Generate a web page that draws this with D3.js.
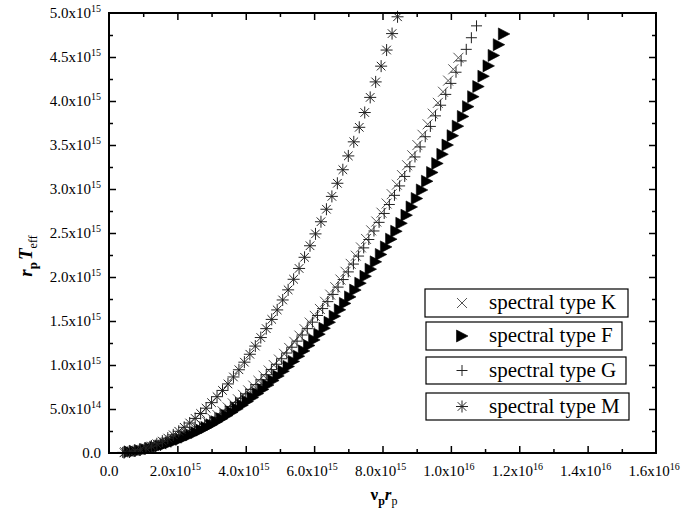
<!DOCTYPE html>
<html>
<head>
<meta charset="utf-8">
<script src="https://cdn.jsdelivr.net/npm/d3@7"></script>
<style>
  body { margin: 0; background: #fff; }
  svg { display: block; }
  svg text { font-family: "Liberation Serif", "Times New Roman", Times, "DejaVu Serif", serif !important; fill: #000; }
</style>
</head>
<body>
<svg id="chart" width="685" height="529" font-family="Liberation Serif, Times New Roman, serif"></svg>
<script>
// Values are in units of 1e15.
const xTickValues = [0, 2, 4, 6, 8, 10, 12, 14, 16];
const xTickMantissa = ["0.0", "2.0x10", "4.0x10", "6.0x10", "8.0x10", "1.0x10", "1.2x10", "1.4x10", "1.6x10"];
const xTickExponent = ["", "15", "15", "15", "15", "16", "16", "16", "16"];
const yTickValues = [0, 0.5, 1, 1.5, 2, 2.5, 3, 3.5, 4, 4.5, 5];
const yTickMantissa = ["0.0", "5.0x10", "1.0x10", "1.5x10", "2.0x10", "2.5x10", "3.0x10", "3.5x10", "4.0x10", "4.5x10", "5.0x10"];
const yTickExponent = ["", "14", "15", "15", "15", "15", "15", "15", "15", "15", "15"];

// spectral type K
const kX = [0.47,0.62,0.77,0.92,1.07,1.22,1.37,1.52,1.67,1.82,1.97,2.12,2.27,2.42,2.57,2.72,2.87,3.02,3.17,3.32,3.47,3.62,3.77,3.92,4.07,4.22,4.37,4.52,4.67,4.82,4.97,5.12,5.27,5.42,5.57,5.72,5.87,6.02,6.17,6.32,6.47,6.62,6.77,6.92,7.07,7.22,7.37,7.52,7.67,7.82,7.97,8.12,8.27,8.42,8.57,8.72,8.87,9.02,9.17,9.32,9.47,9.62,9.77,9.92,10.07,10.22];
const kY = [0.010,0.017,0.026,0.036,0.049,0.064,0.081,0.099,0.120,0.142,0.167,0.193,0.222,0.252,0.284,0.318,0.354,0.392,0.432,0.474,0.518,0.564,0.611,0.661,0.712,0.766,0.821,0.879,0.938,0.999,1.062,1.127,1.194,1.263,1.334,1.407,1.482,1.558,1.637,1.718,1.800,1.884,1.971,2.059,2.149,2.242,2.336,2.432,2.530,2.630,2.731,2.835,2.941,3.049,3.158,3.270,3.383,3.499,3.616,3.735,3.856,3.979,4.105,4.232,4.360,4.491];

// spectral type F
const fX = [0.60,0.75,0.90,1.05,1.20,1.35,1.50,1.65,1.80,1.95,2.10,2.25,2.40,2.55,2.70,2.85,3.00,3.15,3.30,3.45,3.60,3.75,3.90,4.05,4.20,4.35,4.50,4.65,4.80,4.95,5.10,5.25,5.40,5.55,5.70,5.85,6.00,6.15,6.30,6.45,6.60,6.75,6.90,7.05,7.20,7.35,7.50,7.65,7.80,7.95,8.10,8.25,8.40,8.55,8.70,8.85,9.00,9.15,9.30,9.45,9.60,9.75,9.90,10.05,10.20,10.35,10.50,10.65,10.80,10.95,11.10,11.25,11.40,11.55];
const fY = [0.013,0.020,0.029,0.039,0.051,0.065,0.080,0.097,0.116,0.136,0.157,0.181,0.206,0.232,0.260,0.290,0.321,0.354,0.389,0.425,0.463,0.502,0.543,0.586,0.630,0.676,0.723,0.772,0.823,0.875,0.929,0.984,1.041,1.100,1.160,1.222,1.285,1.350,1.417,1.485,1.555,1.627,1.700,1.774,1.851,1.929,2.008,2.089,2.172,2.256,2.342,2.430,2.519,2.610,2.702,2.796,2.892,2.989,3.088,3.188,3.290,3.394,3.499,3.606,3.714,3.824,3.936,4.049,4.164,4.281,4.399,4.518,4.640,4.762];

// spectral type G
const gX = [0.40,0.55,0.70,0.85,1.00,1.15,1.30,1.45,1.60,1.75,1.90,2.05,2.20,2.35,2.50,2.65,2.80,2.95,3.10,3.25,3.40,3.55,3.70,3.85,4.00,4.15,4.30,4.45,4.60,4.75,4.90,5.05,5.20,5.35,5.50,5.65,5.80,5.95,6.10,6.25,6.40,6.55,6.70,6.85,7.00,7.15,7.30,7.45,7.60,7.75,7.90,8.05,8.20,8.35,8.50,8.65,8.80,8.95,9.10,9.25,9.40,9.55,9.70,9.85,10.00,10.15,10.30,10.45,10.60,10.75];
const gY = [0.007,0.013,0.021,0.030,0.042,0.056,0.071,0.088,0.108,0.129,0.152,0.177,0.203,0.232,0.263,0.295,0.329,0.366,0.404,0.444,0.486,0.529,0.575,0.623,0.672,0.723,0.777,0.832,0.889,0.948,1.008,1.071,1.136,1.202,1.271,1.341,1.413,1.487,1.563,1.641,1.720,1.802,1.885,1.971,2.058,2.147,2.238,2.331,2.426,2.523,2.621,2.722,2.824,2.928,3.035,3.143,3.253,3.364,3.478,3.594,3.711,3.831,3.952,4.075,4.200,4.327,4.456,4.587,4.719,4.854];

// spectral type M
const mX = [0.44,0.60,0.76,0.92,1.08,1.24,1.40,1.56,1.72,1.88,2.04,2.20,2.36,2.52,2.68,2.84,3.00,3.16,3.32,3.48,3.64,3.80,3.96,4.12,4.28,4.44,4.60,4.76,4.92,5.08,5.24,5.40,5.56,5.72,5.88,6.04,6.20,6.36,6.52,6.68,6.84,7.00,7.16,7.32,7.48,7.64,7.80,7.96,8.12,8.28,8.44];
const mY = [0.004,0.012,0.023,0.038,0.057,0.079,0.105,0.135,0.169,0.206,0.247,0.292,0.341,0.393,0.449,0.509,0.572,0.640,0.711,0.785,0.864,0.946,1.032,1.122,1.215,1.312,1.413,1.518,1.626,1.739,1.854,1.974,2.097,2.224,2.355,2.490,2.628,2.770,2.916,3.065,3.219,3.376,3.536,3.701,3.869,4.041,4.217,4.396,4.579,4.766,4.957];

const legendLabels = ["spectral type K", "spectral type F", "spectral type G", "spectral type M"];
const legendSymbols = ["cross", "triangle", "plus", "asterisk"];

const svg = d3.select("#chart");
svg.append("rect").attr("width", 685).attr("height", 529).attr("fill", "#fff");

const plotLeft = 109, plotRight = 656, plotTop = 13, plotBottom = 453;
const x = d3.scaleLinear().domain([0, 16]).range([plotLeft, plotRight]);
const y = d3.scaleLinear().domain([0, 5]).range([plotBottom, plotTop]);

// Marker shapes, all centred on the origin
const markerPath = {
  cross: "M-5,-5L5,5M-5,5L5,-5",
  plus: "M-5.5,0L5.5,0M0,-5.5L0,5.5",
  asterisk: "M-6,0L6,0M0,-6L0,6M-4.3,-4.3L4.3,4.3M-4.3,4.3L4.3,-4.3",
  triangle: "M-5.5,-6L6,0L-5.5,6Z"
};
function styleMarker(sel, kind) {
  if (kind === "triangle") sel.attr("fill", "#000").attr("stroke", "#000").attr("stroke-width", 0.6);
  else if (kind === "cross") sel.attr("fill", "none").attr("stroke", "#555").attr("stroke-width", 1);
  else sel.attr("fill", "none").attr("stroke", "#222").attr("stroke-width", 1);
}

const series = [
  { xs: kX, ys: kY, kind: "cross" },
  { xs: gX, ys: gY, kind: "plus" },
  { xs: fX, ys: fY, kind: "triangle" },
  { xs: mX, ys: mY, kind: "asterisk" }
];

const plot = svg.append("g");
series.forEach(s => {
  const pts = s.xs.map((v, i) => [v, s.ys[i]]);
  plot.append("g").selectAll("path").data(pts).join("path")
    .attr("d", markerPath[s.kind])
    .attr("transform", d => `translate(${x(d[0])},${y(d[1])})`)
    .call(styleMarker, s.kind);
});

// Inward ticks on all four sides
const xMinor = d3.range(1, 16, 2);
const yMinor = d3.range(0.25, 5, 0.5);
function tickAxis(axisFn, scale, values, size, transform) {
  svg.append("g").attr("transform", transform)
    .call(axisFn(scale).tickValues(values).tickSize(size).tickSizeOuter(0).tickFormat(() => ""))
    .call(g => g.select(".domain").remove())
    .call(g => g.selectAll("line").attr("stroke", "#000").attr("stroke-width", 1.5));
}
tickAxis(d3.axisBottom, x, xTickValues.slice(1, -1), -7, `translate(0,${plotBottom})`);
tickAxis(d3.axisBottom, x, xMinor, -4, `translate(0,${plotBottom})`);
tickAxis(d3.axisTop, x, xTickValues.slice(1, -1), -7, `translate(0,${plotTop})`);
tickAxis(d3.axisTop, x, xMinor, -4, `translate(0,${plotTop})`);
tickAxis(d3.axisLeft, y, yTickValues.slice(1, -1), -7, `translate(${plotLeft},0)`);
tickAxis(d3.axisLeft, y, yMinor, -4, `translate(${plotLeft},0)`);
tickAxis(d3.axisRight, y, yTickValues.slice(1, -1), -7, `translate(${plotRight},0)`);
tickAxis(d3.axisRight, y, yMinor, -4, `translate(${plotRight},0)`);

svg.append("rect")
  .attr("x", plotLeft).attr("y", plotTop).attr("width", plotRight - plotLeft).attr("height", plotBottom - plotTop)
  .attr("fill", "none").attr("stroke", "#000").attr("stroke-width", 2);

// Tick labels with exponent superscripts
function tickLabel(g, mant, exp) {
  g.append("tspan").text(mant);
  if (exp) g.append("tspan").attr("font-size", 10).attr("dy", -6).text(exp);
}
xTickValues.forEach((v, i) => {
  const t = svg.append("text").attr("x", x(v) - (xTickExponent[i] ? 2 : 0)).attr("y", plotBottom + 23)
    .attr("text-anchor", "middle").attr("font-size", 15);
  tickLabel(t, xTickMantissa[i], xTickExponent[i]);
});
yTickValues.forEach((v, i) => {
  const t = svg.append("text").attr("x", plotLeft - 8).attr("y", y(v) + 5)
    .attr("text-anchor", "end").attr("font-size", 15);
  tickLabel(t, yTickMantissa[i], yTickExponent[i]);
});

// Axis titles
const yTitle = svg.append("text").attr("transform", "translate(32,256) rotate(-90)")
  .attr("text-anchor", "middle").attr("font-size", 19).attr("font-weight", "bold");
yTitle.append("tspan").attr("font-style", "italic").text("r");
yTitle.append("tspan").attr("font-size", 13).attr("dy", 5).text("p");
yTitle.append("tspan").attr("font-style", "italic").attr("dy", -5).attr("dx", 2).text("T");
yTitle.append("tspan").attr("font-size", 12).attr("font-weight", "normal").attr("dy", 5).text("eff");

const xTitle = svg.append("text").attr("x", 384).attr("y", 500)
  .attr("text-anchor", "middle").attr("font-size", 17).attr("font-weight", "bold");
xTitle.append("tspan").text("\u03bd");
xTitle.append("tspan").attr("font-size", 12).attr("dy", 5).text("p");
xTitle.append("tspan").attr("font-style", "italic").attr("dy", -5).text("r");
xTitle.append("tspan").attr("font-size", 12).attr("font-weight", "normal").attr("dy", 5).text("p");

// Legend: one framed entry per series
const legendBoxes = [[425, 289, 203, 28], [426, 322, 196, 28], [426, 357, 200, 27], [426, 393, 203, 27]];
legendLabels.forEach((lab, i) => {
  const [bx, by, bw, bh] = legendBoxes[i];
  const g = svg.append("g");
  g.append("rect").attr("x", bx).attr("y", by).attr("width", bw).attr("height", bh)
    .attr("fill", "#fff").attr("stroke", "#000").attr("stroke-width", 1.2);
  g.append("path").attr("d", markerPath[legendSymbols[i]])
    .attr("transform", `translate(462,${by + bh / 2})`)
    .call(styleMarker, legendSymbols[i]);
  g.append("text").attr("x", 489).attr("y", by + bh / 2 + 6).attr("font-size", 21).text(lab);
});
</script>
</body>
</html>
